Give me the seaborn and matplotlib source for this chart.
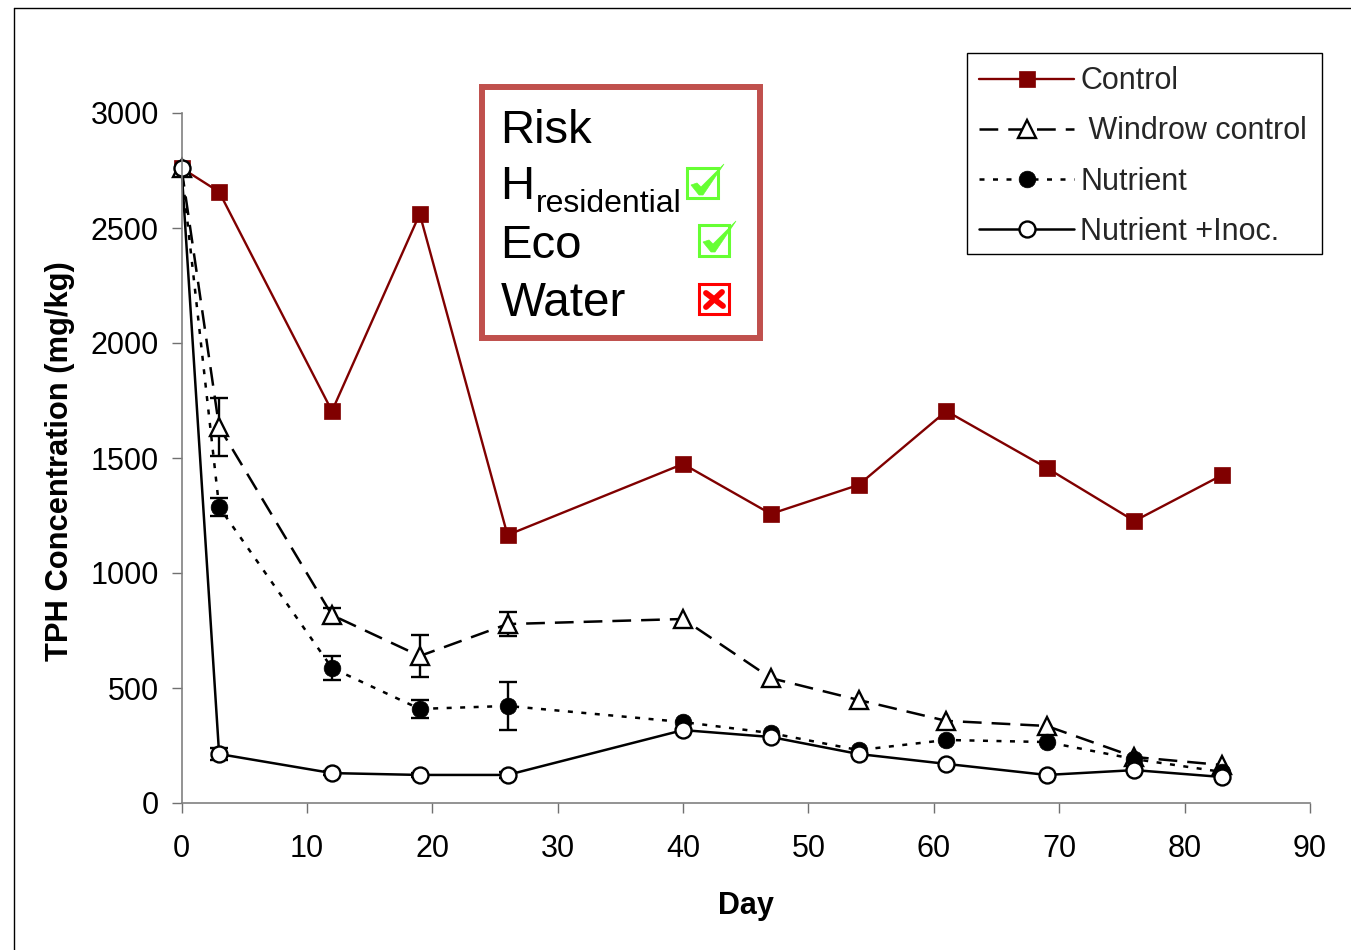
import numpy as np
import matplotlib
matplotlib.use('Agg')
import matplotlib.pyplot as plt
from matplotlib.lines import Line2D
from matplotlib.patches import Rectangle, Polygon
import seaborn as sns

# ===================== data =====================
days = [0, 3, 12, 19, 26, 40, 47, 54, 61, 69, 76, 83]
control = [2761, 2657, 1704, 2561, 1165, 1474, 1257, 1383, 1704, 1457, 1226, 1426]
windrow = [2761, 1635, 817, 639, 778, 800, 543, 448, 357, 335, 200, 165]
nutrient = [2761, 1287, 587, 409, 422, 352, 304, 230, 274, 265, 191, 135]
inoc = [2761, 213, 130, 122, 122, 317, 287, 213, 170, 122, 143, 113]

err_days = [3, 12, 19, 26]
windrow_err = [128, 33, 91, 52]
nutrient_err = [41, 52, 39, 104]
inoc_err = [28, 8, 8, 12]

x_ticks = [0, 10, 20, 30, 40, 50, 60, 70, 80, 90]
y_ticks = [0, 500, 1000, 1500, 2000, 2500, 3000]

W, H = 1351, 950
sns.set_style('ticks')
plt.rcParams['font.family'] = ['Liberation Sans', 'DejaVu Sans']


def px(x, y):
    # picture pixels -> figure fraction
    return x / W, 1 - y / H


fig = plt.figure(figsize=(W / 100, H / 100), dpi=100)
ax = fig.add_axes([181.5 / W, 1 - 803 / H, (1310 - 181.5) / W, (803 - 113) / H])

# error bars go under the markers
for vals, errs in [(windrow, windrow_err), (nutrient, nutrient_err), (inoc, inoc_err)]:
    centers = [vals[days.index(d)] for d in err_days]
    ax.errorbar(err_days, centers, yerr=errs, fmt='none', ecolor='black',
                elinewidth=1.7, capsize=6.5, capthick=1.7, zorder=1.5)

sns.lineplot(x=days, y=control, ax=ax, color='#800000', lw=1.7, marker='s', ms=12,
             markerfacecolor='#800000', markeredgecolor='#800000', markeredgewidth=0.5,
             label='Control', clip_on=False, zorder=2)
sns.lineplot(x=days, y=windrow, ax=ax, color='black', lw=1.8, linestyle=(0, (7.5, 4)),
             marker='^', ms=12.5, markerfacecolor='white', markeredgecolor='black',
             markeredgewidth=1.7, label=' Windrow control', clip_on=False, zorder=2.1)
sns.lineplot(x=days, y=nutrient, ax=ax, color='black', lw=1.8, linestyle=(0, (2, 3.4)),
             marker='o', ms=12, markerfacecolor='black', markeredgecolor='black',
             markeredgewidth=0.5, label='Nutrient', clip_on=False, zorder=2.2)
sns.lineplot(x=days, y=inoc, ax=ax, color='black', lw=1.8, marker='o', ms=11.5,
             markerfacecolor='white', markeredgecolor='black', markeredgewidth=1.7,
             label='Nutrient +Inoc.', clip_on=False, zorder=2.3)

ax.set_xlim(0, 90)
ax.set_ylim(0, 3000)
ax.set_xticks(x_ticks)
ax.set_yticks(y_ticks)
ax.tick_params(axis='both', labelsize=22, length=7.2, width=1, color='#707070',
               labelcolor='black')
ax.tick_params(axis='x', pad=15)
ax.tick_params(axis='y', pad=9)
sns.despine(ax=ax)
for s in ['left', 'bottom']:
    ax.spines[s].set_color('#808080')
    ax.spines[s].set_linewidth(1.2)

ax.set_xlabel('Day', fontsize=22, fontweight='bold', color='black')
ax.set_ylabel('TPH Concentration (mg/kg)', fontsize=22.2, fontweight='bold', color='black')
ax.xaxis.set_label_coords((746 - 181.5) / (1310 - 181.5), -(906 - 803) / 690, transform=ax.transAxes)
ax.xaxis.label.set_va('center')
ax.yaxis.set_label_coords(-(181.5 - 60.5) / (1310 - 181.5), (803 - 461) / 690, transform=ax.transAxes)
ax.yaxis.label.set_va('center')

# legend frame is its own rectangle, the text rows sit a bit high in matplotlib's box
leg = ax.legend(loc='upper left', bbox_to_anchor=px(967, 54), bbox_transform=fig.transFigure,
                borderaxespad=0, fontsize=22, frameon=False, handlelength=3.1,
                handletextpad=0.2, labelspacing=0.66, borderpad=0.4)
leg.set_zorder(5)
fig.add_artist(Rectangle(px(967, 254), 355 / W, 201 / H, transform=fig.transFigure,
                         facecolor='none', edgecolor='black', linewidth=1, zorder=6))

# outer border of the picture
fig.add_artist(Line2D([14 / W, 14 / W], [0, 1 - 8 / H], color='black', lw=1))
fig.add_artist(Line2D([14 / W, 1], [1 - 8 / H, 1 - 8 / H], color='black', lw=1))

# ===================== risk box =====================
def box(x0, y0, x1, y1, edge, lw):
    fig.add_artist(Rectangle(px(x0, y1), (x1 - x0) / W, (y1 - y0) / H, transform=fig.transFigure,
                             facecolor='white', edgecolor=edge, linewidth=lw, zorder=6))


def label(x, y, s, size):
    fig.text(*px(x, y), s, fontsize=size, color='black', va='baseline', ha='left', zorder=7)


def tick_mark(x0, y0):
    # green check, drawn from the box corner
    pts = [(4, 18), (10, 16), (14, 20), (37, -3), (16, 28), (12, 28)]
    fig.add_artist(Polygon([px(x0 + a, y0 + b) for a, b in pts], transform=fig.transFigure,
                           facecolor='#66FF33', edgecolor='#66FF33', linewidth=0.5, zorder=8))


def cross_mark(x0, y0):
    for (a, b), (c, d) in [((7, 9), (24, 22)), ((23, 8), (7, 23))]:
        fig.add_artist(Line2D([px(x0 + a, 0)[0], px(x0 + c, 0)[0]],
                              [px(0, y0 + b)[1], px(0, y0 + d)[1]],
                              color='#FF0000', lw=4.2, zorder=8))


box(482, 87, 760, 338, '#C0504D', 4.3)
label(500.5, 143, 'Risk', 34)
label(500.5, 199, 'H', 34)
label(536, 212, 'residential', 23)
label(500.5, 258, 'Eco', 34)
label(500.5, 316, 'Water', 34.3)

box(687, 168, 718, 198, '#66FF33', 2.2)
box(699, 225, 729, 256, '#66FF33', 2.2)
box(699, 284, 729, 314, '#FF0000', 2.2)
tick_mark(687, 167)
tick_mark(699, 224)
cross_mark(699, 284)

fig.savefig('out.png', dpi=100)
